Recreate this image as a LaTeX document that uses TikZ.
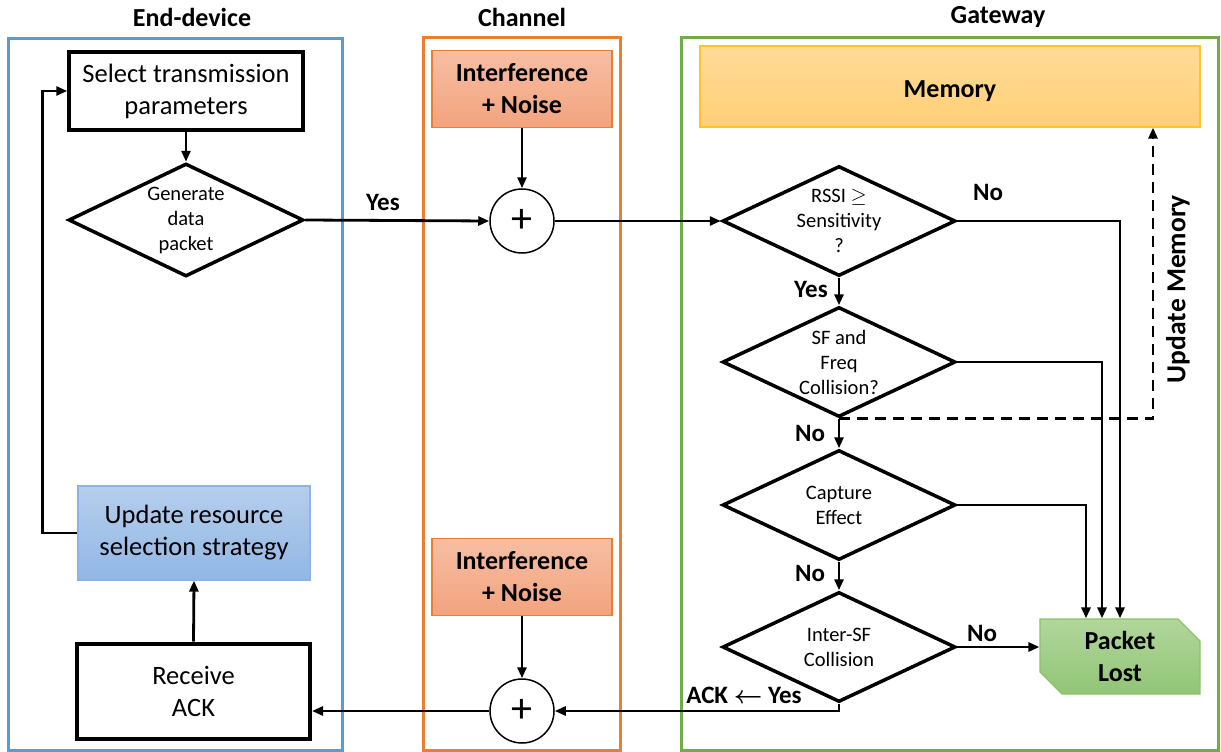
\documentclass[tikz,border=0pt]{standalone}
\usepackage{amsmath}
\usepackage{fontspec}
\setmainfont{Carlito}
\usetikzlibrary{shapes.geometric}
\usetikzlibrary{shapes.misc}
\usetikzlibrary{arrows.meta}
\definecolor{edblue}{HTML}{5B9BD5}
\definecolor{chorange}{HTML}{ED7D31}
\definecolor{gwgreen}{HTML}{70AD47}
\tikzset{
frame/.style={line width=3pt},
title/.style={font=\fontsize{26}{30}\selectfont\bfseries},
lbl/.style={font=\fontsize{25}{25}\selectfont\bfseries},
proc/.style={draw,line width=3.5pt,minimum width=234pt,minimum height=78pt,inner sep=0pt,align=center,font=\fontsize{26.5}{32}\selectfont},
decision/.style={draw,diamond,aspect=2.12,line width=3.5pt,minimum width=233pt,minimum height=110pt,inner sep=0pt,align=center,font=\fontsize{20.5}{25}\selectfont},
noise/.style={draw=chorange,line width=1.5pt,top color={rgb,255:red,246;green,190;blue,163},bottom color={rgb,255:red,243;green,163;blue,126},minimum width=180pt,minimum height=77pt,inner sep=0pt,align=center,font=\fontsize{26}{32}\selectfont\bfseries},
sum/.style={draw,circle,line width=1.5pt,minimum size=64pt,inner sep=0pt,font=\fontsize{42}{42}\selectfont},
arr/.style={-{Triangle[length=11pt,width=9pt]},line width=2.8pt}
}
\begin{document}
\begin{tikzpicture}[x=1pt,y=-1pt]
\useasboundingbox (0,0) rectangle (1221,752);
% the three columns
\draw[frame,draw=edblue] (8,39) rectangle (342,750);
\draw[frame,draw=chorange] (423,38) rectangle (620,750);
\draw[frame,draw=gwgreen] (681,38) rectangle (1218,750);
\node[title] (tdev) at (192,17) {End-device};
\node[title] (tch) at (522,17) {Channel};
\node[title] (tgw) at (998,17) {Gateway};

% end-device
\node[proc] (sel) at (186,91) {Select transmission\\parameters};
\node[decision,minimum width=235pt,minimum height=113pt] (gen) at (186,220) {Generate\\data\\packet};
\node[draw={rgb,255:red,143;green,180;blue,227},line width=1.2pt,top color={rgb,255:red,182;green,206;blue,236},bottom color={rgb,255:red,145;green,183;blue,229},minimum width=232pt,minimum height=94pt,inner sep=0pt,align=center,font=\fontsize{26.5}{32}\selectfont] (upd) at (194,533) {Update resource\\selection strategy};
\node[proc,minimum width=233pt,minimum height=95pt,line width=4pt] (rack) at (193.5,691) {Receive\\ACK};

% channel
\node[noise] (noise1) at (522,89) {Interference\\+ Noise};
\node[sum] (sum1) at (522,221) {+};
\node[noise] (noise2) at (522,577) {Interference\\+ Noise};
\node[sum] (sum2) at (522,711) {+};

% gateway
\node[draw={rgb,255:red,255;green,196;blue,40},line width=1.2pt,top color={rgb,255:red,255;green,219;blue,153},bottom color={rgb,255:red,255;green,207;blue,118},minimum width=500pt,minimum height=81pt,text height=22pt,text depth=0pt,font=\fontsize{26}{30}\selectfont\bfseries] (mem) at (950,86.5) {Memory};
\node[decision] (rssi) at (839,221) {RSSI $\geq$\\Sensitivity\\?};
\node[decision] (sfq) at (839,362) {SF and\\Freq\\Collision?};
\node[decision] (cap) at (839,505) {Capture\\Effect};
\node[decision] (isf) at (839,647) {Inter-SF\\Collision};
\node[chamfered rectangle,chamfered rectangle corners={north east,south west},chamfered rectangle xsep=11pt,chamfered rectangle ysep=11pt,draw={rgb,255:red,140;green,194;blue,106},line width=1.2pt,top color={rgb,255:red,178;green,214;blue,156},bottom color={rgb,255:red,145;green,197;blue,118},minimum width=160pt,minimum height=75pt,inner sep=0pt,align=center,font=\fontsize{26}{32}\selectfont\bfseries] (lost) at (1120,656.5) {Packet\\Lost};

\node[lbl] (yes1) at (383,202) {Yes};
\node[lbl] (no1) at (988,192) {No};
\node[lbl] (yes2) at (811,289) {Yes};
\node[lbl] (no2) at (810,433) {No};
\node[lbl] (no3) at (810,573) {No};
\node[lbl] (no4) at (982,633) {No};
\node[lbl] (ack) at (744,695) {ACK $\boldsymbol{\leftarrow}$ Yes};
\node[lbl,rotate=90,font=\fontsize{27.5}{28}\selectfont\bfseries] (updmem) at (1178,289) {Update Memory};

% connectors
\draw[arr] (sel.south) -- (gen.north);
\draw[arr] (gen.east) -- (sum1.west);
\draw[arr] (noise1.south) -- (sum1.north);
\draw[arr] (sum1.east) -- (rssi.west);
\draw[arr] (rssi.south) -- (sfq.north);
\draw[arr] (sfq.south) -- (cap.north);
\draw[arr] (cap.south) -- (isf.north);
\draw[arr] (rssi.east) -| (lost.north);
\draw[arr] (sfq.east) -| ([xshift=-18pt]lost.north);
\draw[arr] (cap.east) -| ([xshift=-34pt]lost.north);
\draw[arr] (isf.east) -- (isf.east -| lost.west);
\draw[arr,dash pattern=on 11pt off 7pt] (sfq.south) -| ([xshift=203pt]mem.south);
\draw[arr] (isf.south) |- (sum2.east);
\draw[arr] (noise2.south) -- (sum2.north);
\draw[arr] (sum2.west) -- (sum2.west -| rack.east);
\draw[arr] (rack.north) -- (upd.south);
\draw[arr] (upd.west) -- ++(-35,0) |- (sel.west);
\end{tikzpicture}
\end{document}
